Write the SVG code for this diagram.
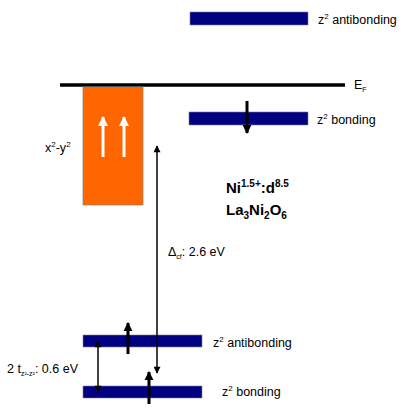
<svg xmlns="http://www.w3.org/2000/svg" width="415" height="416" viewBox="0 0 415 416">
<defs>
<style>
.lvl{fill:#000080;stroke:#7f7f9f;stroke-width:0.6}
.t{font-family:"Liberation Sans",Arial,sans-serif;font-size:12.5px;fill:#000}
.b{font-family:"Liberation Sans",Arial,sans-serif;font-size:15px;font-weight:bold;fill:#000}
.blk{stroke:#000;stroke-width:3;fill:none}
.thin{stroke:#000;stroke-width:1.5;fill:none}
.wht{stroke:#fff;stroke-width:3;fill:none}
</style>
<marker id="ah" viewBox="0 0 10 10" refX="9" refY="5" markerUnits="userSpaceOnUse" markerWidth="9" markerHeight="10" orient="auto"><path d="M0,0 L10,5 L0,10 z" fill="#000"/></marker>
<marker id="ahs" viewBox="0 0 10 10" refX="9" refY="5" markerUnits="userSpaceOnUse" markerWidth="8" markerHeight="7" orient="auto-start-reverse"><path d="M0,0 L10,5 L0,10 z" fill="#000"/></marker>
<marker id="ahw" viewBox="0 0 10 10" refX="9" refY="5" markerUnits="userSpaceOnUse" markerWidth="11" markerHeight="10" orient="auto"><path d="M0,0 L10,5 L0,10 z" fill="#fff"/></marker>
</defs>
<g id="ef">
<line x1="60" y1="85" x2="345" y2="85" stroke="#000" stroke-width="3.5"/>
<text class="t" x="354" y="89">E<tspan font-size="7" dy="3">F</tspan></text>
</g>
<g id="x2y2">
<rect x="83" y="87" width="60" height="118" fill="#ff6600" stroke="#808080" stroke-width="0.7"/>
<text class="t" x="45" y="152">x<tspan font-size="8" dy="-5">2</tspan><tspan dy="5">-y</tspan><tspan font-size="8" dy="-5">2</tspan></text>
</g>
<g id="z2ab-top">
<rect class="lvl" x="190" y="12" width="118" height="13"/>
<text class="t" x="318" y="24">z<tspan font-size="8" dy="-5">2</tspan><tspan dy="5"> antibonding</tspan></text>
</g>
<g id="z2b-top">
<rect class="lvl" x="189" y="112" width="119" height="13"/>
<text class="t" x="317" y="124">z<tspan font-size="8" dy="-5">2</tspan><tspan dy="5"> bonding</tspan></text>
</g>
<g id="formula">
<text class="b" x="226" y="193">Ni<tspan font-size="10" dy="-6">1.5+</tspan><tspan dy="6">:d</tspan><tspan font-size="10" dy="-6">8.5</tspan></text>
<text class="b" x="226" y="215">La<tspan font-size="10" dy="4">3</tspan><tspan dy="-4">Ni</tspan><tspan font-size="10" dy="4">2</tspan><tspan dy="-4">O</tspan><tspan font-size="10" dy="4">6</tspan></text>
</g>
<g id="z2ab-low">
<rect class="lvl" x="83" y="335" width="119" height="12"/>
<text class="t" x="213" y="347">z<tspan font-size="8" dy="-5">2</tspan><tspan dy="5"> antibonding</tspan></text>
</g>
<g id="z2b-low">
<rect class="lvl" x="83" y="386" width="119" height="12"/>
<text class="t" x="222" y="396">z<tspan font-size="8" dy="-5">2</tspan><tspan dy="5"> bonding</tspan></text>
</g>
<g id="connectors">
<line class="wht" x1="103" y1="157" x2="103" y2="117" marker-end="url(#ahw)"/>
<line class="wht" x1="124" y1="157" x2="124" y2="117" marker-end="url(#ahw)"/>
<line class="blk" x1="247" y1="101" x2="247" y2="133" marker-end="url(#ah)"/>
<line class="blk" x1="128" y1="354" x2="128" y2="323" marker-end="url(#ah)"/>
<line class="blk" x1="149" y1="404" x2="149" y2="372" marker-end="url(#ah)"/>
<line class="thin" x1="157" y1="146" x2="157" y2="373" marker-start="url(#ahs)" marker-end="url(#ahs)"/>
<line class="thin" x1="98" y1="341" x2="98" y2="392" marker-start="url(#ahs)" marker-end="url(#ahs)"/>
</g>
<g id="labels">
<text class="t" x="168" y="256">Δ<tspan font-size="7" dy="3">cf</tspan><tspan dy="-3">: 2.6 eV</tspan></text>
<text class="t" x="7" y="373">2 t<tspan font-size="7" dy="3">z²-z²</tspan><tspan dy="-3">: 0.6 eV</tspan></text>
</g>
</svg>
